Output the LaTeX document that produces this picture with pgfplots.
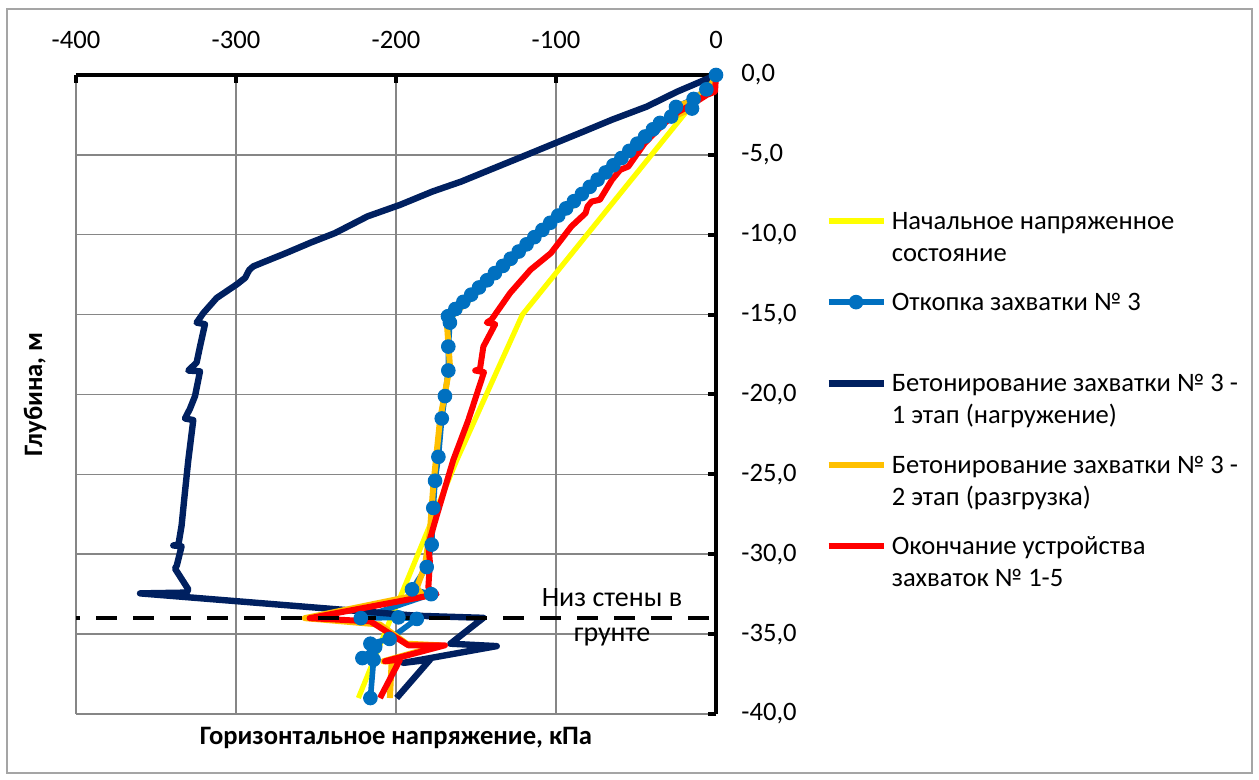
\documentclass[border=0pt]{standalone}
\usepackage{pgfplots}
\pgfplotsset{compat=1.18}
\usepackage{fontspec}
\setmainfont{Carlito}
\definecolor{cYel}{RGB}{255,255,0}
\definecolor{cBlue}{RGB}{0,112,192}
\definecolor{cNavy}{RGB}{0,32,96}
\definecolor{cOra}{RGB}{255,192,0}
\definecolor{cRed}{RGB}{255,0,0}
\definecolor{gridgray}{RGB}{134,134,134}
\definecolor{framegray}{RGB}{165,165,165}
\newcommand{\lt}[2]{\begin{tabular}[t]{@{}l@{}}#1\\#2\end{tabular}}
\newcommand{\fs}{\fontsize{13.3bp}{16bp}\selectfont}
\newcommand{\fsl}{\fontsize{13.3bp}{16bp}\selectfont\setbox\strutbox\hbox{\vrule height 11.2bp depth 4.8bp width 0pt}}
\begin{document}
\begin{tikzpicture}
\useasboundingbox (0,0) rectangle (629.5bp,390bp);
\draw[framegray, line width=0.75bp] (3.5bp,3.5bp) rectangle (626bp,385.5bp);
\begin{axis}[
  at={(38bp,33bp)}, anchor=south west,
  scale only axis, width=320bp, height=319.5bp,
  xmin=-400, xmax=0, ymin=-40, ymax=0,
  clip=false,
  separate axis lines,
  axis x line*=top, axis y line*=right,
  axis line style={black, line width=2bp, -},
  xtick={-400,-300,-200,-100,0},
  xticklabels={-400,-300,-200,-100,0},
  ytick={-40,-35,-30,-25,-20,-15,-10,-5,0},
  yticklabels={{-40,0},{-35,0},{-30,0},{-25,0},{-20,0},{-15,0},{-10,0},{-5,0},{0,0}},
  tick align=inside,
  major tick length=4bp,
  tick style={black, line width=2bp},
  grid=major,
  major grid style={gridgray, line width=0.75bp},
  /pgf/number format/assume math mode=true,
  tick label style={font=\fs},
  xticklabel style={anchor=south, inner sep=0pt, yshift=13bp},
  yticklabel style={anchor=west, inner sep=0pt, xshift=12.5bp},
  legend style={at={(axis description cs:1.1703,0.794)}, anchor=north west,
    draw=none, fill=none, inner sep=0pt, row sep=0pt, column sep=2.5bp,
    font=\fsl, nodes={inner sep=0pt, text height=11.2bp, text depth=29.4bp}},
  legend cell align=left,
  legend image code/.code={\draw[mark repeat=2, mark phase=2, yshift=13.35bp, #1] plot coordinates {(0bp,0bp) (13.75bp,0bp) (27.5bp,0bp)};},
  every axis plot/.append style={line join=round},
]
% Initial stress state (yellow)
\addplot[cYel, line width=2.6bp] coordinates {
(0,0) (-121,-15) (-162,-24.1) (-197,-32.6) (-204,-34.2) (-223.5,-39)
};
\addlegendentry{\lt{Начальное напряженное}{состояние}}
% Excavation (blue with markers)
\addplot[cBlue, line width=2.8bp, mark=*, mark size=3.4bp, mark options={solid, fill=cBlue, draw=cBlue, line width=0.5bp}] coordinates {
(0,0) (-6,-0.9) (-14,-1.5) (-25,-2.0) (-15,-2.1) (-28,-2.6) (-35,-3.0)
(-39.4,-3.4) (-44.3,-3.85) (-49.2,-4.3) (-54.2,-4.75) (-59.1,-5.2)
(-64.1,-5.65) (-69,-6.1) (-74,-6.55) (-78.9,-7.0) (-83.8,-7.45)
(-88.8,-7.9) (-93.7,-8.35) (-98.6,-8.8) (-103.6,-9.25) (-108.5,-9.7)
(-113.5,-10.15) (-118.4,-10.6) (-123.3,-11.05) (-128.3,-11.5) (-133.2,-11.95)
(-138.2,-12.4) (-143.1,-12.85) (-148.1,-13.3) (-153,-13.75) (-157.9,-14.2)
(-162.9,-14.65) (-167.5,-15.1) (-166.3,-15.5) (-167.3,-17.0)
(-167.3,-18.5) (-169.4,-20.1) (-171.4,-21.5) (-173.5,-23.9) (-175.6,-25.4)
(-176.7,-27.1) (-177.7,-29.4) (-180.8,-30.8) (-190,-32.2) (-178,-32.5)
(-222,-34.0) (-198.5,-33.95) (-187,-34.05) (-204,-35.3) (-216,-35.6)
(-213,-35.8) (-221,-36.5) (-214,-36.6) (-216,-39)
};
\addlegendentry{\lt{Откопка захватки № 3}{\strut}}
% Concreting stage 1 (navy)
\addplot[cNavy, line width=3.2bp] coordinates {
(0,0) (-12,-0.52) (-24.2,-1.04) (-43.3,-1.98) (-65,-2.8) (-82.8,-3.54)
(-100.6,-4.27) (-115.9,-4.9) (-141.4,-5.94) (-159.2,-6.67) (-177.1,-7.29)
(-197.5,-8.13) (-217.8,-8.85) (-238.2,-9.9) (-253.5,-10.5) (-268.8,-11.15)
(-284.1,-11.77) (-289.2,-11.98) (-291.7,-12.2) (-294.3,-12.7) (-299.4,-13.1)
(-312.1,-13.96) (-320.4,-14.9) (-324.6,-15.5) (-319.4,-15.6) (-322.5,-17.0)
(-324.6,-18.0) (-329.8,-18.5) (-322.5,-18.55) (-325.6,-20.1) (-328.8,-20.9)
(-331.9,-21.5) (-326.7,-21.6) (-329.8,-24.1) (-331.9,-26.1) (-334,-28.2)
(-336,-29.4) (-339.2,-29.45) (-334,-29.5) (-337,-30.7) (-338.1,-30.9)
(-329.8,-32.2) (-330.8,-32.4) (-360,-32.45) (-187,-33.85) (-145.4,-33.98)
(-166,-35.6) (-137,-35.75) (-195.4,-36.8) (-178.75,-36.6) (-199.6,-39)
};
\addlegendentry{\lt{Бетонирование захватки № 3 -}{1 этап (нагружение)}}
% Concreting stage 2 (orange)
\addplot[cOra, line width=3bp] coordinates {
(0,0) (-3,-0.6) (-14,-1.6) (-26,-2.0) (-16,-2.15) (-29,-2.7) (-34.4,-2.92)
(-44.6,-4.06) (-59.9,-5.31) (-67.5,-6.04) (-77.7,-6.98) (-90.4,-8.23)
(-103.2,-9.27) (-115.9,-10.52) (-128.7,-11.77) (-141.4,-12.8) (-154.1,-14.06)
(-168.3,-15.4) (-166.3,-18.2) (-172.5,-21.6) (-176.7,-25.7) (-178.8,-28.6)
(-181.9,-30.7) (-187,-32.1) (-184,-32.5) (-257,-34.0) (-210,-34.4)
(-193.3,-35.6) (-172.5,-35.7) (-208,-36.7) (-202.7,-36.7) (-203.8,-39)
};
\addlegendentry{\lt{Бетонирование захватки № 3 -}{2 этап (разгрузка)}}
% End of panels 1-5 (red)
\addplot[cRed, line width=3bp] coordinates {
(0,0) (-0.6,-1.04) (-5.8,-1.25) (-16,-1.9) (-23.5,-2.3) (-30.8,-2.9)
(-34.4,-3.23) (-44.6,-4.27) (-54.8,-5.73) (-59.9,-5.94) (-65,-6.56)
(-72.6,-7.81) (-77.7,-7.92) (-80.3,-8.23) (-81.5,-8.65) (-90.4,-9.48)
(-103.2,-11.15) (-115.9,-12.19) (-128.7,-13.65) (-140.2,-15.3) (-143.3,-15.5)
(-138,-15.6) (-145.4,-17.0) (-147.5,-18.4) (-150.5,-18.5) (-145,-18.6)
(-154.8,-21.6) (-164.2,-24.1) (-174.6,-27.6) (-179.8,-29.4) (-178.8,-30.5)
(-179.8,-32.1) (-174.6,-32.5) (-254,-34.0) (-216,-34.2) (-192.3,-35.7)
(-169.4,-35.7) (-206.9,-36.7) (-197.5,-36.6) (-210,-39)
};
\addlegendentry{\lt{Окончание устройства}{захваток № 1-5}}
% Wall bottom
\addplot[black, line width=2bp, dash pattern=on 10.5bp off 8bp, dash phase=8.3bp, forget plot] coordinates {(-400,-34) (0,-34)};
\node[anchor=base, inner sep=0pt, font=\fontsize{14bp}{16bp}\selectfont] at (axis cs:-65,-33.25) {Низ стены в};
\node[anchor=base, inner sep=0pt, font=\fontsize{14bp}{16bp}\selectfont] at (axis cs:-65,-35.44) {грунте};
\node[anchor=base, inner sep=0pt, font=\bfseries\fs] at (axis description cs:0.5,-0.0485) {Горизонтальное напряжение, кПа};
\node[rotate=90, anchor=center, inner sep=0pt, font=\bfseries\fs] at (axis description cs:-0.064,0.5) {Глубина, м};
\end{axis}
\end{tikzpicture}
\end{document}
